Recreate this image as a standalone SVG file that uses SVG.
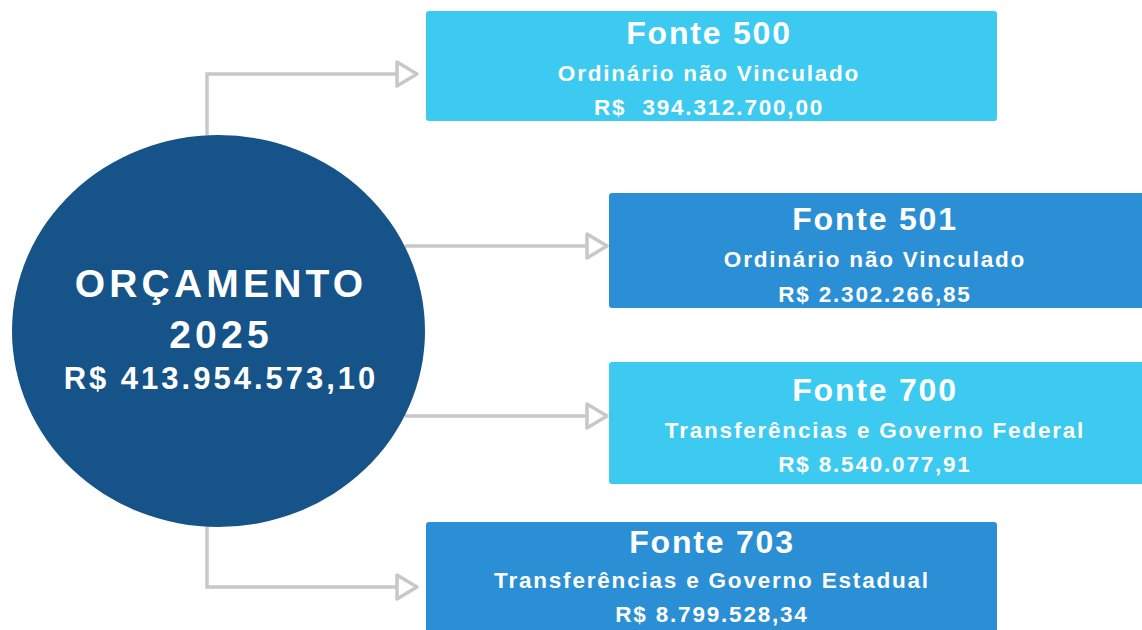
<svg xmlns="http://www.w3.org/2000/svg" width="1142" height="630" viewBox="0 0 1142 630">
<defs>
<style>
.conn{fill:none;stroke:#c8c8c8;stroke-width:3.5}
.head{fill:#fff;stroke:#c8c8c8;stroke-width:3.5;stroke-linejoin:round}
.light{fill:#3ccaf0}
.dark{fill:#2b8fd6}
.t1{font-family:"Liberation Sans",Arial,sans-serif;font-weight:700;font-size:32px;fill:#fff;text-anchor:middle;letter-spacing:1.8px}
.t2{font-family:"Liberation Sans",Arial,sans-serif;font-weight:700;font-size:22.5px;fill:#fff;text-anchor:middle;letter-spacing:1.8px}
.c1{font-family:"Liberation Sans",Arial,sans-serif;font-weight:700;font-size:39px;fill:#fff;text-anchor:middle;letter-spacing:4.2px}
.c2{font-family:"Liberation Sans",Arial,sans-serif;font-weight:700;font-size:31px;fill:#fff;text-anchor:middle;letter-spacing:3px}
</style>
</defs>
<rect width="1142" height="630" fill="#fff"/>
<g id="connectors">
<path class="conn" d="M207,135 V74 H397"/>
<path class="head" d="M397,62 L417,74 L397,86 Z"/>
<path class="conn" d="M405,246 H587"/>
<path class="head" d="M587,234 L607,246 L587,258 Z"/>
<path class="conn" d="M405,416 H587"/>
<path class="head" d="M587,404 L607,416 L587,428 Z"/>
<path class="conn" d="M207,525 V587 H397"/>
<path class="head" d="M397,575 L417,587 L397,599 Z"/>
</g>
<g id="orcamento">
<ellipse cx="218.5" cy="331" rx="206.5" ry="196" fill="#165388"/>
<text class="c1" x="221" y="297">ORÇAMENTO</text>
<text class="c1" x="221" y="348">2025</text>
<text class="c2" x="221" y="389">R$ 413.954.573,10</text>
</g>
<g id="fonte500">
<rect class="light" x="426" y="11" width="571" height="110" rx="3"/>
<text class="t1" x="709" y="44">Fonte 500</text>
<text class="t2" x="709" y="81">Ordinário não Vinculado</text>
<text class="t2" x="709" y="115" xml:space="preserve">R$  394.312.700,00</text>
</g>
<g id="fonte501">
<rect class="dark" x="609" y="193" width="540" height="115" rx="3"/>
<text class="t1" x="875" y="230">Fonte 501</text>
<text class="t2" x="875" y="267">Ordinário não Vinculado</text>
<text class="t2" x="875" y="302">R$ 2.302.266,85</text>
</g>
<g id="fonte700">
<rect class="light" x="609" y="362" width="540" height="122" rx="3"/>
<text class="t1" x="875" y="401">Fonte 700</text>
<text class="t2" x="875" y="438">Transferências e Governo Federal</text>
<text class="t2" x="875" y="472">R$ 8.540.077,91</text>
</g>
<g id="fonte703">
<rect class="dark" x="426" y="522" width="571" height="115" rx="3"/>
<text class="t1" x="712" y="553">Fonte 703</text>
<text class="t2" x="712" y="588">Transferências e Governo Estadual</text>
<text class="t2" x="712" y="622">R$ 8.799.528,34</text>
</g>
</svg>
